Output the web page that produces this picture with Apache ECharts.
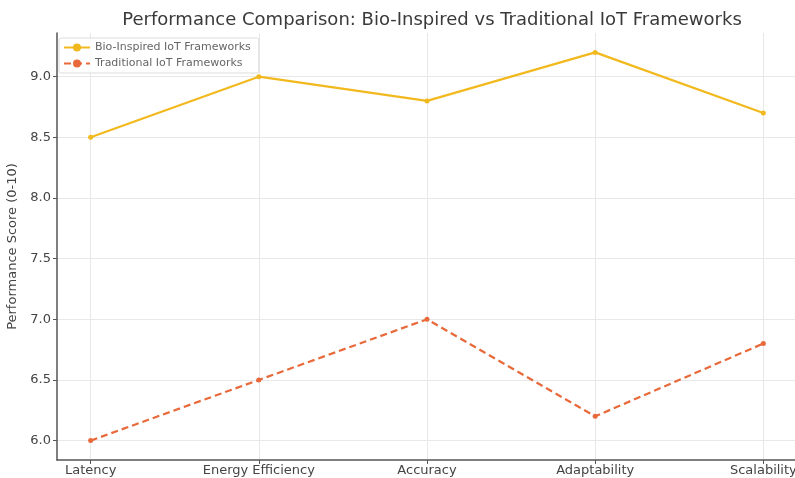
<!DOCTYPE html>
<html>
<head>
<meta charset="utf-8">
<script src="https://cdn.jsdelivr.net/npm/echarts@6/dist/echarts.min.js"></script>
<style>
  html, body { margin: 0; padding: 0; background: #fff; }
  #chart { width: 795px; height: 478px; }
</style>
</head>
<body>
<div id="chart"></div>
<script>
// Bio-inspired vs traditional IoT frameworks, scores
const categories = ["Latency", "Energy Efficiency", "Accuracy", "Adaptability", "Scalability"];
const bioScores = [8.5, 9.0, 8.8, 9.2, 8.7];
const tradScores = [6.0, 6.5, 7.0, 6.2, 6.8];
const yTicks = [6.0, 6.5, 7.0, 7.5, 8.0, 8.5, 9.0];

const GOLD = "#f2b91e";
const ORANGE = "#e8693a";
const FONT = "DejaVu Sans, sans-serif";

const xIdx = categories.map((_, i) => i);
const pairs = (vals) => vals.map((v, i) => [i, v]);

const chart = echarts.init(document.getElementById("chart"), null, { renderer: "canvas" });

const axisCommon = {
  axisLine: { show: true, onZero: false, lineStyle: { color: "#555", width: 1.5 } },
  axisTick: { show: true, length: 4, lineStyle: { color: "#555" } },
  splitLine: { show: true, lineStyle: { color: "#e8e8e8", width: 1 } },
};

chart.setOption({
  animation: false,
  textStyle: { fontFamily: FONT },
  title: {
    text: "Performance Comparison: Bio-Inspired vs Traditional IoT Frameworks",
    left: 427, top: 6, textAlign: "center",
    textStyle: { fontSize: 18, fontWeight: "normal", color: "#3a3a3a", fontFamily: FONT },
  },
  // plot box runs slightly past the right edge, as in the cropped original
  grid: { left: 57, right: -2, top: 33, bottom: 18, containLabel: false, outerBoundsMode: "none" },
  legend: {
    left: 59, top: 38, orient: "vertical", itemGap: 5,
    itemWidth: 26, itemHeight: 10,
    padding: [4, 8, 4, 4],
    borderColor: "#dddddd", borderWidth: 1, borderRadius: 2,
    backgroundColor: "rgba(255,255,255,0.8)",
    textStyle: { fontSize: 11, color: "#666", fontFamily: FONT },
    data: ["Bio-Inspired IoT Frameworks", "Traditional IoT Frameworks"],
  },
  xAxis: Object.assign({}, axisCommon, {
    type: "value", min: -0.2, max: 4.2,
    axisLabel: {
      customValues: xIdx, color: "#444", fontSize: 13, margin: 4,
      formatter: (v) => categories[Math.round(v)] || "",
    },
    axisTick: Object.assign({}, axisCommon.axisTick, { customValues: xIdx }),
  }),
  yAxis: Object.assign({}, axisCommon, {
    type: "value", min: 5.84, max: 9.36,
    name: "Performance Score (0-10)", nameLocation: "middle", nameGap: 30,
    nameTextStyle: { fontSize: 13, color: "#444", fontFamily: FONT },
    axisLabel: {
      customValues: yTicks, color: "#444", fontSize: 13, margin: 6,
      formatter: (v) => v.toFixed(1),
    },
    axisTick: Object.assign({}, axisCommon.axisTick, { customValues: yTicks }),
  }),
  series: [
    {
      name: "Bio-Inspired IoT Frameworks", type: "line",
      data: pairs(bioScores),
      symbol: "circle", symbolSize: 5,
      itemStyle: { color: GOLD },
      lineStyle: { color: GOLD, width: 2.2 },
    },
    {
      name: "Traditional IoT Frameworks", type: "line",
      data: pairs(tradScores),
      symbol: "circle", symbolSize: 5,
      itemStyle: { color: ORANGE },
      lineStyle: { color: ORANGE, width: 2.2, type: [7, 4] },
    },
  ],
});
</script>
</body>
</html>
